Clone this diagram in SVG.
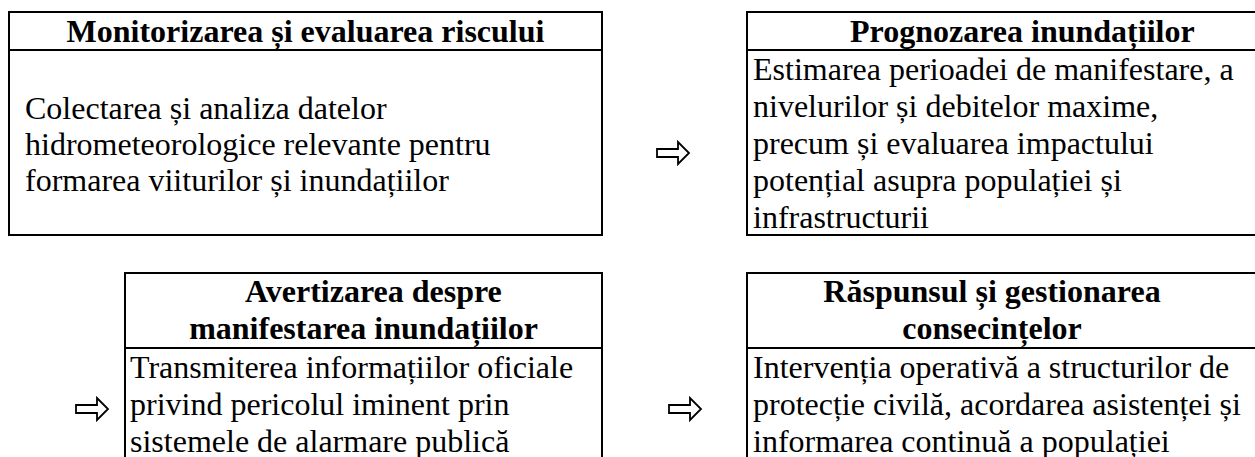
<svg xmlns="http://www.w3.org/2000/svg" width="1255" height="457" viewBox="0 0 1255 457">
<style>
.box{fill:#fff;stroke:#000;stroke-width:2}
.sep{stroke:#000;stroke-width:2}
text{font-family:'Liberation Serif','DejaVu Serif',serif;font-size:32px;fill:#000}
.h{font-weight:bold}
.arr{fill:#fff;stroke:#000;stroke-width:1.8;stroke-linejoin:miter}
</style>
<rect width="1255" height="457" fill="#fff"/>
<g id="node-monitorizarea">
<rect class="box" x="9" y="12" width="593" height="223"/>
<line class="sep" x1="9" y1="50" x2="602" y2="50"/>
<text class="h" x="305.5" y="42" text-anchor="middle">Monitorizarea și evaluarea riscului</text>
<text x="25" y="119">Colectarea și analiza datelor</text>
<text x="25" y="155">hidrometeorologice relevante pentru</text>
<text x="25" y="191">formarea viiturilor și inundațiilor</text>
</g>
<g id="node-prognozarea">
<rect class="box" x="747" y="12" width="560" height="223"/>
<line class="sep" x1="747" y1="50" x2="1307" y2="50"/>
<text class="h" x="850" y="42">Prognozarea inundațiilor</text>
<text x="753" y="80">Estimarea perioadei de manifestare, a</text>
<text x="753" y="117">nivelurilor și debitelor maxime,</text>
<text x="753" y="154">precum și evaluarea impactului</text>
<text x="753" y="191">potențial asupra populației și</text>
<text x="753" y="228">infrastructurii</text>
</g>
<g id="node-avertizarea">
<rect class="box" x="125" y="273" width="477" height="200"/>
<line class="sep" x1="125" y1="348" x2="602" y2="348"/>
<text class="h" x="245" y="302">Avertizarea despre</text>
<text class="h" x="363.5" y="339" text-anchor="middle">manifestarea inundațiilor</text>
<text x="130" y="378">Transmiterea informațiilor oficiale</text>
<text x="130" y="415">privind pericolul iminent prin</text>
<text x="130" y="452">sistemele de alarmare publică</text>
</g>
<g id="node-raspunsul">
<rect class="box" x="747" y="273" width="560" height="200"/>
<line class="sep" x1="747" y1="348" x2="1307" y2="348"/>
<text class="h" x="992" y="302" text-anchor="middle">Răspunsul și gestionarea</text>
<text class="h" x="992" y="339" text-anchor="middle">consecințelor</text>
<text x="753" y="378">Intervenția operativă a structurilor de</text>
<text x="753" y="415">protecție civilă, acordarea asistenței și</text>
<text x="753" y="452">informarea continuă a populației</text>
</g>
<g id="connectors">
<polygon class="arr" points="657,149 678,149 678,142 689,153 678,164 678,157 657,157"/>
<polygon class="arr" points="76,405 97,405 97,398 108,409 97,420 97,413 76,413"/>
<polygon class="arr" points="669,405 690,405 690,398 701,409 690,420 690,413 669,413"/>
</g>
</svg>
